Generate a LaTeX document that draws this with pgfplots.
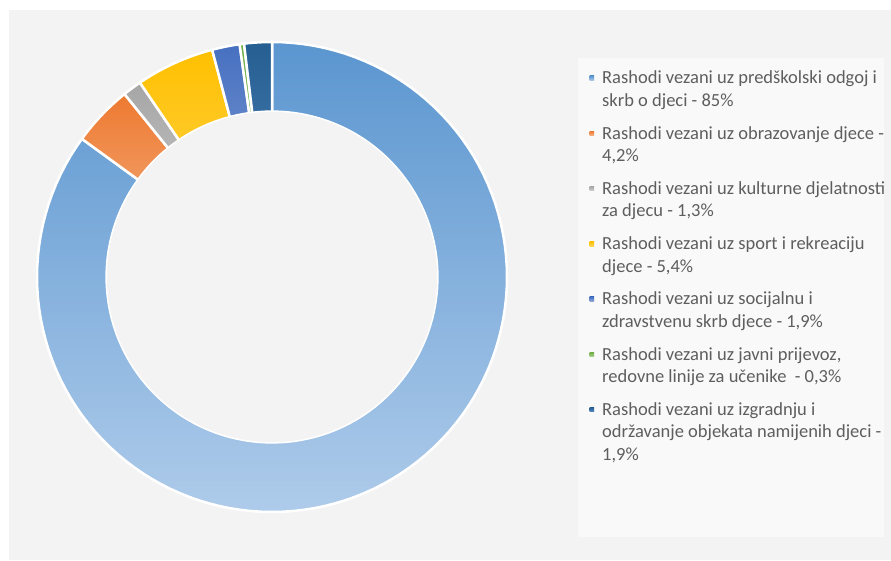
\documentclass[border=0pt]{standalone}
\usepackage{fontspec}
\setmainfont{Carlito}
\usepackage{pgfplots}
\pgfplotsset{compat=1.18}
\usepackage{pgfplotstable}

\definecolor{bgpanel}{HTML}{F3F3F3}
\definecolor{legendbg}{HTML}{F9F9F9}
\definecolor{legendtext}{HTML}{5E5E5E}
\definecolor{c1top}{HTML}{5B96D0}
\definecolor{c1bot}{HTML}{AECBEA}
\definecolor{c2top}{HTML}{ED7A30}
\definecolor{c2bot}{HTML}{F5B48C}
\definecolor{c3top}{HTML}{A6A6A6}
\definecolor{c3bot}{HTML}{D2D2D2}
\definecolor{c4top}{HTML}{FFC000}
\definecolor{c4bot}{HTML}{FFD760}
\definecolor{c5top}{HTML}{4670C0}
\definecolor{c5bot}{HTML}{93AADA}
\definecolor{c6top}{HTML}{70AD47}
\definecolor{c6bot}{HTML}{A9D18E}
\definecolor{c7top}{HTML}{255E91}
\definecolor{c7bot}{HTML}{5A8CC4}

% shares of the donut, in per cent, clockwise from 12 o'clock
\pgfplotstableread{
share
85
4.2
1.3
5.4
1.9
0.3
1.9
}\shares

\newcommand\ang[1]{\csname ang#1\endcsname}
\newcommand\entry[2]{\begin{tabular}[t]{@{}l@{}}#1\\#2\end{tabular}}

\begin{document}
\begin{tikzpicture}[x=1pt,y=1pt]
\fill[white] (0,0) rectangle (891,560);
\fill[bgpanel] (9,0) rectangle (891,550);
\fill[legendbg] (578,23) rectangle (884,502);

% running angles of the slice edges
\xdef\run{90}
\expandafter\xdef\csname ang0\endcsname{90}
\foreach \i in {0,...,6}{
  \pgfplotstablegetelem{\i}{share}\of\shares
  \pgfmathsetmacro\nxt{\run-3.6*\pgfplotsretval}
  \pgfmathtruncatemacro\j{\i+1}
  \expandafter\xdef\csname ang\j\endcsname{\nxt}
  \xdef\run{\nxt}
}

\begin{axis}[
  at={(272pt,283pt)}, anchor=center,
  scale only axis, width=470pt, height=470pt,
  xmin=-1, xmax=1, ymin=-1, ymax=1,
  hide axis, clip=false,
  samples=120,
  wedge/.style={draw=white, line width=2.5pt},
  legend style={
    at={(axis description cs:1.1755,0.949)}, anchor=north west,
    draw=none, fill=none, inner sep=0pt,
    font=\fontsize{18.5}{22.5}\selectfont, text=legendtext,
    row sep=34pt, column sep=6pt,
    cells={anchor=base west, inner sep=0pt}
  },
  legend image code/.code={\fill[#1,draw=none] (0pt,3.5pt) rectangle (4.5pt,8pt);}
]
\addplot[wedge, top color=c1top, bottom color=c1bot, domain=\ang{1}:\ang{0}]
  ({cos(x)},{sin(x)}) -- (axis cs:0,0) -- cycle;
\addlegendentry{\entry{Rashodi vezani uz predškolski odgoj i}{skrb o djeci - 85\%}}
\addplot[wedge, top color=c2top, bottom color=c2bot, domain=\ang{2}:\ang{1}]
  ({cos(x)},{sin(x)}) -- (axis cs:0,0) -- cycle;
\addlegendentry{\entry{Rashodi vezani uz obrazovanje djece -}{4,2\%}}
\addplot[wedge, top color=c3top, bottom color=c3bot, domain=\ang{3}:\ang{2}]
  ({cos(x)},{sin(x)}) -- (axis cs:0,0) -- cycle;
\addlegendentry{\entry{Rashodi vezani uz kulturne djelatnosti}{za djecu - 1,3\%}}
\addplot[wedge, top color=c4top, bottom color=c4bot, domain=\ang{4}:\ang{3}]
  ({cos(x)},{sin(x)}) -- (axis cs:0,0) -- cycle;
\addlegendentry{\entry{Rashodi vezani uz sport i rekreaciju}{djece - 5,4\%}}
\addplot[wedge, top color=c5top, bottom color=c5bot, domain=\ang{5}:\ang{4}]
  ({cos(x)},{sin(x)}) -- (axis cs:0,0) -- cycle;
\addlegendentry{\entry{Rashodi vezani uz socijalnu i}{zdravstvenu skrb djece - 1,9\%}}
\addplot[wedge, top color=c6top, bottom color=c6bot, domain=\ang{6}:\ang{5}]
  ({cos(x)},{sin(x)}) -- (axis cs:0,0) -- cycle;
\addlegendentry{\entry{Rashodi vezani uz javni prijevoz,}{redovne linije za učenike ~- 0,3\%}}
\addplot[wedge, top color=c7top, bottom color=c7bot, domain=\ang{7}:\ang{6}]
  ({cos(x)},{sin(x)}) -- (axis cs:0,0) -- cycle;
\addlegendentry{\begin{tabular}[t]{@{}l@{}}Rashodi vezani uz izgradnju i\\održavanje objekata namijenih djeci -\\1,9\%\end{tabular}}
% hole of the donut
\addplot[forget plot, fill=bgpanel, draw=white, line width=1.5pt, domain=0:360, samples=180]
  ({0.706*cos(x)},{0.706*sin(x)}) -- cycle;
\end{axis}
\end{tikzpicture}
\end{document}
